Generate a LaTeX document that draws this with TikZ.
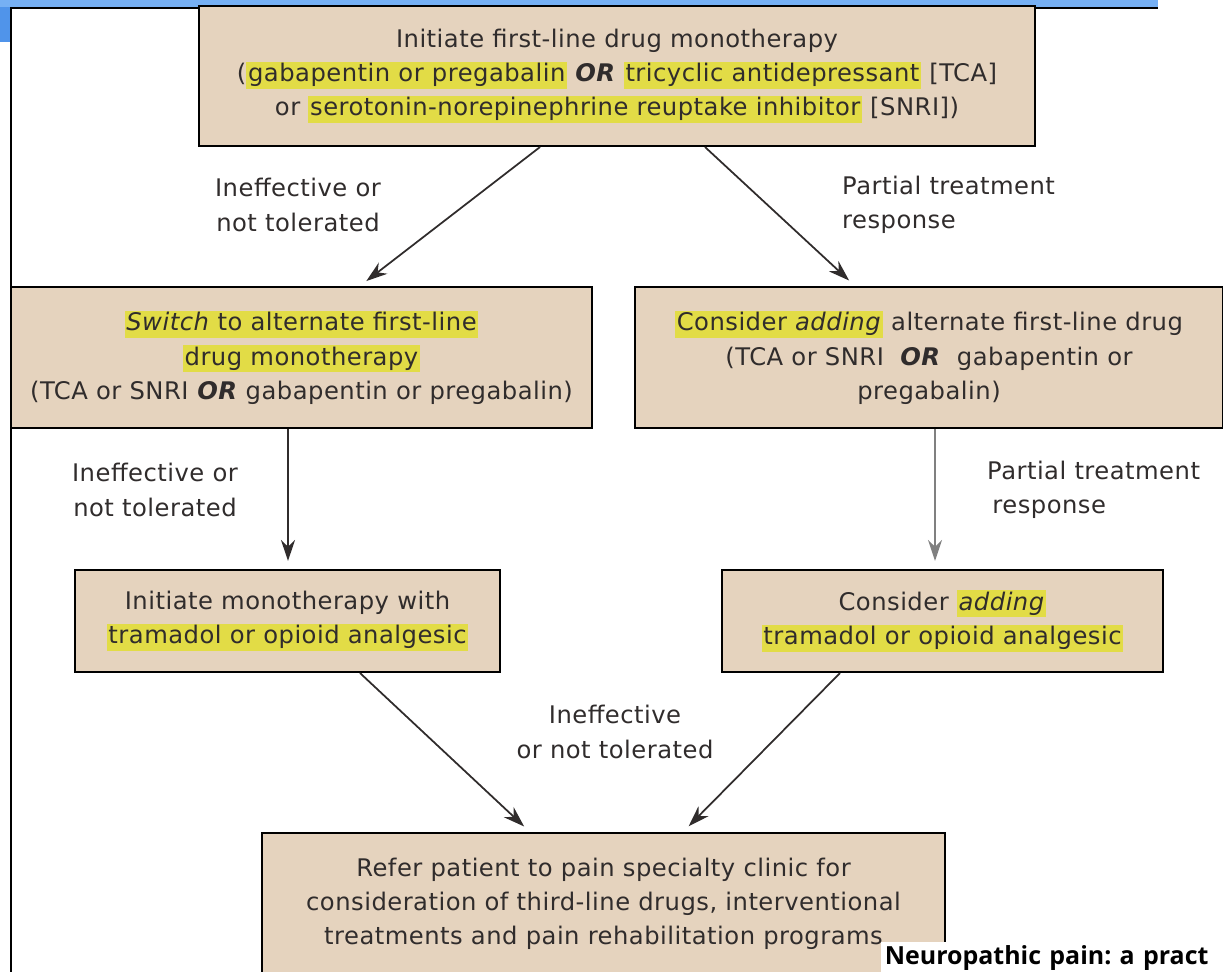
\documentclass[tikz,border=0pt]{standalone}
\usepackage{fontspec}
\setmainfont[LetterSpace=2]{DejaVu Sans}
\newfontfamily\sourcefont{Open Sans}
\usetikzlibrary{arrows.meta}
\definecolor{boxtan}{RGB}{229,211,190}
\definecolor{hlyellow}{RGB}{226,220,70}
\definecolor{slideblue}{RGB}{118,176,244}
\definecolor{slidebluedark}{RGB}{80,148,234}
\definecolor{inkgray}{RGB}{48,44,44}
\setlength{\fboxsep}{1pt}
\newcommand{\hilite}[1]{\colorbox{hlyellow}{\vphantom{Ag}#1}}
\newcommand{\orword}{\textbf{\textit{OR}}}

\begin{document}
\begin{tikzpicture}[x=0.02cm, y=-0.02cm,
    font=\fontsize{13.8}{19.4}\selectfont,
    stepbox/.style={draw=black, line width=1.2pt, fill=boxtan, text=inkgray, align=center, inner sep=0pt},
    flow/.style={-{Stealth[length=12pt,width=8pt]}, line width=1pt, draw=inkgray, shorten >=0.16cm},
    cond/.style={text=inkgray}]
    \useasboundingbox (0,0) rectangle (1223,972);

    % slide frame
    \fill[slideblue] (0,0) rectangle (1158,7);
    \fill[slidebluedark] (0,7) rectangle (11,42);
    \draw[line width=1.2pt] (11,972) -- (11,8) -- (1158,8);

    % boxes
    \node[stepbox, minimum width=16.72cm, minimum height=2.8cm] (first) at (617,76)
        {Initiate first-line drug monotherapy\\
         (\hilite{gabapentin or pregabalin} \orword{} \hilite{tricyclic antidepressant} [TCA]\\
         or \hilite{serotonin-norepinephrine reuptake inhibitor} [SNRI])};

    \node[stepbox, minimum width=11.62cm, minimum height=2.82cm] (switch) at (301.5,357.5)
        {\hilite{\textit{Switch} to alternate first-line}\\
         \hilite{drug monotherapy}\\
         (TCA or SNRI \orword{} gabapentin or pregabalin)};

    \node[stepbox, minimum width=11.76cm, minimum height=2.82cm] (addalt) at (929,357.5)
        {\hilite{Consider \textit{adding}} alternate first-line drug\\
         (TCA or SNRI \ \orword{} \ gabapentin or\\
         pregabalin)};

    \node[stepbox, minimum width=8.5cm, minimum height=2.04cm] (tramadol) at (287.5,621)
        {Initiate monotherapy with\\
         \hilite{tramadol or opioid analgesic}};

    \node[stepbox, minimum width=8.82cm, minimum height=2.04cm] (addtram) at (942.5,621)
        {Consider \hilite{\textit{adding}}\\
         \hilite{tramadol or opioid analgesic}};

    \node[stepbox, minimum width=13.66cm, minimum height=2.84cm] (refer) at (603.5,904)
        {Refer patient to pain specialty clinic for\\
         consideration of third-line drugs, interventional\\
         treatments and pain rehabilitation programs};

    % connectors
    \draw[flow] (first.south -| 540,0) -- (switch.north -| 360,0);
    \draw[flow] (first.south -| 705,0) -- (addalt.north -| 855,0);
    \draw[flow] (switch.south -| 288,0) -- (tramadol.north -| 288,0);
    \draw[flow, draw=gray] (addalt.south -| 935,0) -- (addtram.north -| 935,0);
    \draw[flow] (tramadol.south -| 360,0) -- (refer.north -| 530,0);
    \draw[flow] (addtram.south -| 840,0) -- (refer.north -| 683,0);

    % conditions
    \node[cond, align=center] (ineff1) at (298,205) {Ineffective or\\not tolerated};
    \node[cond, align=left, anchor=west] (part1) at (836,205) {Partial treatment\\response};
    \node[cond, align=center] (ineff2) at (155,490) {Ineffective or\\not tolerated};
    \node[cond, align=left, anchor=west] (part2) at (981,490) {Partial treatment\\\hspace{3pt}response};
    \node[cond, align=center] (ineff3) at (615,732) {Ineffective\\or not tolerated};

    % source
    \node[fill=white, anchor=north west, minimum height=0.64cm, text width=7cm,
          inner xsep=2pt, inner ysep=0pt, align=left, font=\sourcefont\fontsize{14.2}{16}\selectfont\bfseries\frenchspacing]
        (source) at (881,942) {Neuropathic pain: a pract};
\end{tikzpicture}
\end{document}
